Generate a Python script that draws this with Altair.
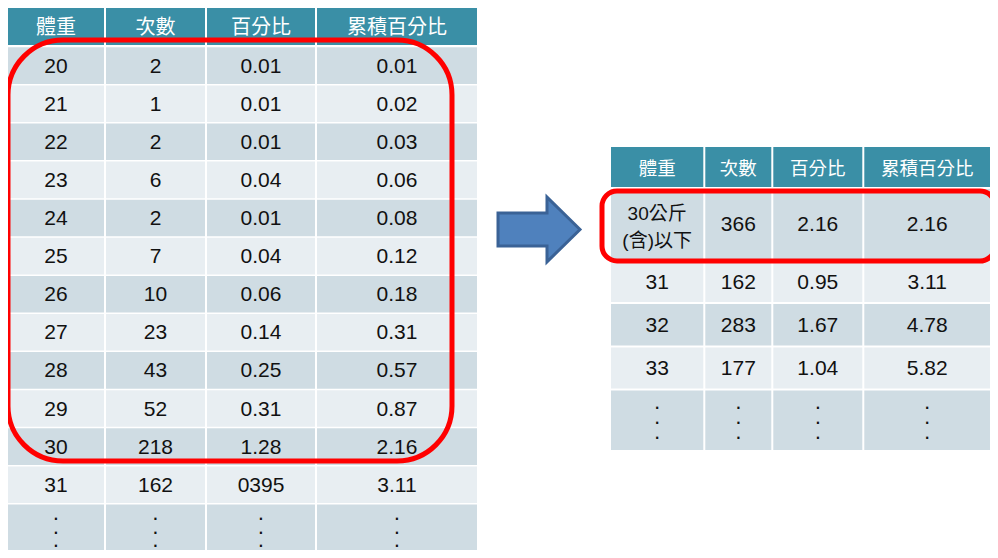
import altair as alt
import pandas as pd

# ---------------- data ----------------
headers = ["體重", "次數", "百分比", "累積百分比"]

left_weight = ["20", "21", "22", "23", "24", "25", "26", "27", "28", "29", "30", "31"]
left_count = ["2", "1", "2", "6", "2", "7", "10", "23", "43", "52", "218", "162"]
left_pct = ["0.01", "0.01", "0.01", "0.04", "0.01", "0.04", "0.06", "0.14", "0.25", "0.31", "1.28", "0395"]
left_cum = ["0.01", "0.02", "0.03", "0.06", "0.08", "0.12", "0.18", "0.31", "0.57", "0.87", "2.16", "3.11"]

right_weight = ["30公斤\n(含)以下", "31", "32", "33"]
right_count = ["366", "162", "283", "177"]
right_pct = ["2.16", "0.95", "1.67", "1.04"]
right_cum = ["2.16", "3.11", "4.78", "5.82"]

DOTS = "·\n·\n·"

# ---------------- layout (page pixels) ----------------
W, H = 982, 542
HEAD = "#3A8FA6"
DARK = "#CFDCE3"
LIGHT = "#E8EEF2"

colL = [(8, 104), (106, 205), (207, 315), (317, 477)]
headL = (8, 45)
rowsL = [(47.3 + 38.1 * i, 47.3 + 38.1 * i + 36.6) for i in range(12)] + [(504.5, 550)]

colR = [(611, 703.3), (705.3, 771.3), (773.3, 862.3), (864.3, 990)]
headR = (147, 187)
rowsR = [(189, 259), (261, 302), (304, 345.5), (347.5, 388.5), (390.5, 450)]

cells = []
text_rows = []


def add_table(cols, head, rows, columns, tag):
    for c, (x0, x1) in enumerate(cols):
        cells.append(dict(x=x0, x2=x1, y=head[0], y2=head[1], fill=HEAD))
        text_rows.append(dict(tx=(x0 + x1) / 2, ty=(head[0] + head[1]) / 2,
                              label=headers[c], kind=tag + "_head"))
        for r, (y0, y1) in enumerate(rows):
            cells.append(dict(x=x0, x2=x1, y=y0, y2=y1, fill=DARK if r % 2 == 0 else LIGHT))
            if r < len(columns[c]):
                label = columns[c][r]
            else:
                label = DOTS
            kind = tag + "_body"
            if label == DOTS:
                kind = tag + "_dots"
            elif "\n" in label:
                kind = tag + "_multi"
            text_rows.append(dict(tx=(x0 + x1) / 2, ty=(y0 + y1) / 2, label=label, kind=kind))


add_table(colL, headL, rowsL, [left_weight, left_count, left_pct, left_cum], "L")
add_table(colR, headR, rowsR, [right_weight, right_count, right_pct, right_cum], "R")

cells_df = pd.DataFrame(cells)
text_df = pd.DataFrame(text_rows)

xs = alt.Scale(domain=[8, 8 + W], nice=False, zero=False)
ys = alt.Scale(domain=[8, 8 + H], nice=False, zero=False, reverse=True)

rects = alt.Chart(cells_df).mark_rect(strokeWidth=0).encode(
    x=alt.X("x:Q", scale=xs, axis=None),
    x2="x2:Q",
    y=alt.Y("y:Q", scale=ys, axis=None),
    y2="y2:Q",
    color=alt.Color("fill:N", scale=None),
)


def text_layer(kind, **kw):
    return alt.Chart(text_df).transform_filter(
        alt.datum.kind == kind
    ).mark_text(baseline="middle", align="center", **kw).encode(
        x=alt.X("tx:Q", scale=xs, axis=None),
        y=alt.Y("ty:Q", scale=ys, axis=None),
        text="label:N",
    )


CJK = "Noto Sans CJK TC"
layers = [
    rects,
    text_layer("L_head", font=CJK, fontSize=20, color="white", dy=1.5),
    text_layer("R_head", font=CJK, fontSize=18.5, color="white", dy=1.5),
    text_layer("L_body", font="Liberation Sans", fontSize=21, color="#111111", dy=1),
    text_layer("R_body", font="Liberation Sans", fontSize=21, color="#111111", dy=1),
    text_layer("R_multi", font="Liberation Sans, " + CJK, fontSize=19, color="#111111",
               lineBreak="\n", lineHeight=27, dy=-10),
    text_layer("L_dots", font="Liberation Sans", fontSize=22, color="#111111",
               lineBreak="\n", lineHeight=13.5, dy=-9),
    text_layer("R_dots", font="Liberation Sans", fontSize=22, color="#111111",
               lineBreak="\n", lineHeight=15, dy=-13),
]

# highlight frames
frames_df = pd.DataFrame([
    dict(x=8, x2=452, y=40, y2=461),
    dict(x=602, x2=995, y=191, y2=261),
])
frame_big = alt.Chart(frames_df.iloc[[0]]).mark_rect(
    fillOpacity=0, stroke="#FF0000", strokeWidth=5, cornerRadius=55
).encode(x=alt.X("x:Q", scale=xs, axis=None), x2="x2:Q",
         y=alt.Y("y:Q", scale=ys, axis=None), y2="y2:Q")
frame_small = alt.Chart(frames_df.iloc[[1]]).mark_rect(
    fillOpacity=0, stroke="#FF0000", strokeWidth=5, cornerRadius=15
).encode(x=alt.X("x:Q", scale=xs, axis=None), x2="x2:Q",
         y=alt.Y("y:Q", scale=ys, axis=None), y2="y2:Q")

# arrow (block arrow symbol)
arrow_df = pd.DataFrame([dict(x=539, y=229.5)])
arrow_path = "M-1,-0.4 L0.195,-0.4 L0.195,-0.79 L1,0 L0.195,0.79 L0.195,0.4 L-1,0.4 Z"
arrow = alt.Chart(arrow_df).mark_point(
    shape=arrow_path, size=6724, filled=True, fill="#4F81BD", fillOpacity=1,
    stroke="#3A6296", strokeWidth=3, opacity=1
).encode(x=alt.X("x:Q", scale=xs, axis=None), y=alt.Y("y:Q", scale=ys, axis=None))

chart = alt.layer(*layers, frame_big, frame_small, arrow).properties(
    width=W, height=H, padding=0, autosize=alt.AutoSizeParams(type="none")
).configure_view(strokeWidth=0)

chart.save("out.html", embed_options={"renderer": "svg", "actions": False})
